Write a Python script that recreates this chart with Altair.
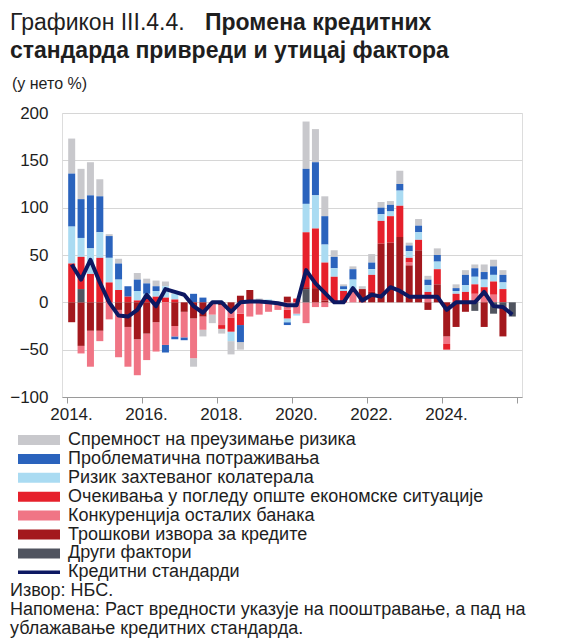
import altair as alt
import pandas as pd

# ---------------- data (quarterly, 2014Q1 .. 2025Q4) ----------------
years = [2014, 2015, 2016, 2017, 2018, 2019, 2020, 2021, 2022, 2023, 2024, 2025]
quarters = [1, 2, 3, 4]

series_names = [
    "Спремност на преузимање ризика",
    "Проблематична потраживања",
    "Ризик захтеваног колатерала",
    "Очекивања у погледу опште економске ситуације",
    "Конкуренција осталих банака",
    "Трошкови извора за кредите",
    "Други фактори",
]
series_colors = ["#c8c8cc", "#2a63bd", "#aadbf2", "#e6202b", "#f07585", "#a3181d", "#50545f"]
# stacking order from zero outward
stack_order = [6, 5, 4, 3, 2, 1, 0]

risk = [37, 32, 35, 18, 2, 5, 0, 7, 5, 6, 5, 3,
        0, -9, -7, -9, -5, -14, -8, 0, 2, 0, 0, 0,
        0, 50, 35, 21, 7, 2, 3, 3, 9, 6, 4, 14,
        3, 7, 4, 7, 0, 4, 5, 4, 8, 7, 5, 0]
npl = [56, 41, 56, 38, 23, 17, 11, 12, 11, 5, -8, -3,
       -3, 9, 5, 0, 0, 0, -18, 0, 0, 0, 0, -3,
       0, 37, 35, 30, 12, 3, 11, 0, 7, 7, 7, 7,
       6, 7, 6, 7, 0, 3, 11, 9, 8, 9, 8, 0]
collateral = [39, 20, 27, 27, 26, 11, 0, 10, 5, 6, 12, 6,
              0, 0, 0, 0, 0, -10, 0, 0, 2, 3, 0, -4,
              -2, 30, 35, 19, 9, 2, 12, 0, 6, 7, 5, 16,
              7, 8, 7, 8, 0, 3, 7, 8, 8, 7, 7, 0]
expectations = [41, 34, 30, 47, 21, 13, 6, 2, 4, 6, 5, 3,
                0, 0, 0, 0, -4, -15, -12, 0, 0, 0, 0, -9,
                4, 58, 63, 40, 27, 12, 0, 0, 18, 24, 28, 33,
                5, 11, 6, 16, -6, 9, 11, 10, 10, 14, 14, 0]
competition = [0, -8, -38, -11, -18, -50, -42, -38, -28, -31, -45, -11,
               -27, -42, -14, -13, -21, -8, -12, -15, -13, -10, -8, -8,
               -12, -22, -5, -5, 0, 0, 12, 0, 0, 0, 0, 0,
               3, 0, 5, 0, -8, 0, 0, 9, 6, 8, 0, 0]
costs = [-21, -46, -30, -30, 0, -8, -26, -39, -33, -21, 0, -25,
         -10, -17, -15, 0, -3, -8, 7, 13, 0, 0, 0, 6,
         0, 2, 15, 2, 0, 0, 0, 14, 11, 62, 63, 69,
         39, 55, -8, 19, -36, -26, -10, 0, -26, 0, -32, 0]
other = [0, 14, 0, 0, 0, 0, 0, 0, 0, 0, 0, 0,
         0, 0, 0, 0, 0, 0, 0, 0, 0, 0, 0, 0,
         0, 14, 0, 0, 0, 0, 0, 0, 0, 0, 0, 0,
         0, 0, 0, 0, 0, 0, 0, -9, 0, -12, -4, -15]
credit_standards = [40, 24, 45, 21, 0, -14, -15, -8, 8, -4, 14, 11,
                    8, -4, -11, 0, 0, -10, 0, 1, 1, 0, -1, -3,
                    -3, 34, 20, 10, 0, 0, 15, 2, 8, 6, 16, 12,
                    6, 6, 6, 6, -8, 0, 0, 0, 11, -4, -5, -13]

line_name = "Кредитни стандарди"
notes = [
    "Извор: НБС.",
    "Напомена: Раст вредности указује на пооштравање, а пад на",
    "ублажавање кредитних стандарда.",
]

# ---------------- tables ----------------
t_vals = [y + (q - 0.5) / 4 for y in years for q in quarters]
all_series = [risk, npl, collateral, expectations, competition, costs, other]
rows = []
for k, name in enumerate(series_names):
    for i, t in enumerate(t_vals):
        rows.append({"t": t, "series": name, "value": all_series[k][i], "ord": stack_order[k]})
bars_df = pd.DataFrame(rows)
line_df = pd.DataFrame({"t": t_vals, "v": credit_standards})

FONT = "Liberation Sans"
TXT = "#1e1e1e"

x_enc = alt.X("t:Q", scale=alt.Scale(domain=[2014, 2026], nice=False, zero=False),
              axis=alt.Axis(values=list(range(2014, 2027)), title=None,
                            labelExpr="datum.value % 2 == 0 && datum.value < 2026 ? datum.value + '.' : ''",
                            labelFontSize=17, labelFont=FONT, labelColor=TXT, labelOffset=4,
                            labelPadding=3, labelOverlap=False, labelFlush=False,
                            tickSize=6, tickColor="#9a9a9a", domainColor="#9a9a9a", grid=False))
y_enc_scale = alt.Scale(domain=[-100, 200], nice=False)

bars = alt.Chart(bars_df).mark_bar(size=7).encode(
    x=x_enc,
    y=alt.Y("value:Q", stack="zero", scale=y_enc_scale,
            axis=alt.Axis(values=[-100, -50, 0, 50, 100, 150, 200], title=None,
                          labelFontSize=17, labelFont=FONT, labelColor=TXT, labelPadding=14,
                          ticks=False, domain=False, grid=True, gridColor="#d6d6d6")),
    color=alt.Color("series:N", scale=alt.Scale(domain=series_names, range=series_colors), legend=None),
    order=alt.Order("ord:Q", sort="ascending"),
)

line = alt.Chart(line_df).mark_line(color="#0d1862", strokeWidth=4, strokeJoin="round").encode(
    x="t:Q", y=alt.Y("v:Q", scale=y_enc_scale))

main = alt.layer(bars, line)

# ---------------- legend & notes (rows) ----------------
row_scale = alt.Scale(domain=[0, 10], range=[327, 516])
leg_df = pd.DataFrame({"row": list(range(7)), "series": series_names})
leg_line_df = pd.DataFrame({"row": [7], "series": [line_name]})
lab_df = pd.DataFrame({"row": list(range(8)), "label": series_names + [line_name]})
note_df = pd.DataFrame({"row": [8, 9, 10], "label": notes})

sw = alt.Chart(leg_df).mark_rule(strokeWidth=10).encode(
    x=alt.value(-44), x2=alt.value(-2),
    y=alt.Y("row:Q", scale=row_scale, axis=None),
    color=alt.Color("series:N", legend=None))
sw_line = alt.Chart(leg_line_df).mark_rule(strokeWidth=3.5, color="#0d1862").encode(
    x=alt.value(-44), x2=alt.value(-2),
    y=alt.Y("row:Q", scale=row_scale, axis=None))
labs = alt.Chart(lab_df).mark_text(align="left", baseline="middle", fontSize=18, font=FONT, color=TXT).encode(
    x=alt.value(6), y=alt.Y("row:Q", scale=row_scale, axis=None), text="label:N")
note_txt = alt.Chart(note_df).mark_text(align="left", baseline="middle", fontSize=18, font=FONT, color=TXT).encode(
    x=alt.value(-52), y=alt.Y("row:Q", scale=row_scale, axis=None), text="label:N")

title_df = pd.DataFrame({"a": ["Графикон III.4.4."], "b": ["Промена кредитних"],
                         "c": ["стандарда привреди и утицај фактора"], "d": ["(у нето %)"]})
t1 = alt.Chart(title_df).mark_text(align="left", baseline="alphabetic", fontSize=23, font=FONT, color=TXT).encode(
    x=alt.value(-52), y=alt.value(-83), text="a:N")
t2 = alt.Chart(title_df).mark_text(align="left", baseline="alphabetic", fontSize=23, font=FONT,
                                   fontWeight="bold", color=TXT).encode(
    x=alt.value(143), y=alt.value(-83), text="b:N")
t3 = alt.Chart(title_df).mark_text(align="left", baseline="alphabetic", fontSize=23, font=FONT,
                                   fontWeight="bold", color=TXT).encode(
    x=alt.value(-52), y=alt.value(-55), text="c:N")
t4 = alt.Chart(title_df).mark_text(align="left", baseline="alphabetic", fontSize=16, font=FONT, color=TXT).encode(
    x=alt.value(-50), y=alt.value(-24), text="d:N")

extras = alt.layer(sw, sw_line, labs, note_txt, t1, t2, t3, t4)

chart = alt.layer(main, extras).resolve_scale(y="independent").properties(
    width=460, height=284,
    autosize=alt.AutoSizeParams(type="none"),
    padding={"left": 54, "top": 105, "right": 31, "bottom": 246},
).configure_view(stroke="#d8d8d8").configure(background="white")

chart.save("out.html", embed_options={"renderer": "svg", "actions": False})
